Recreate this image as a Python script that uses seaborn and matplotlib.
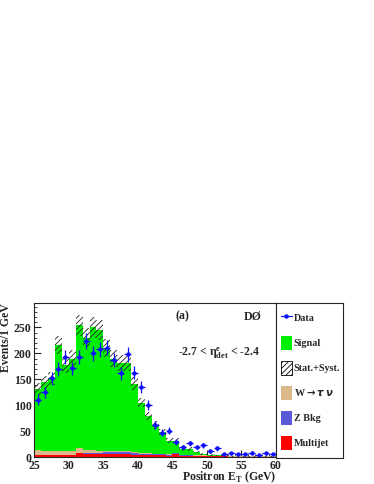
import matplotlib
matplotlib.use('Agg')
import matplotlib.pyplot as plt
from matplotlib.patches import Patch
from matplotlib.lines import Line2D
from matplotlib.ticker import MultipleLocator
import seaborn as sns
import numpy as np
import pandas as pd

# bins are 1 GeV wide, 25..60
bin_lo = np.arange(25, 60)
signal = [117, 132, 139, 203, 165, 178, 236, 216, 235, 232, 198, 177, 169, 169, 131,
          96, 71, 55, 41, 26, 23, 11, 11.5, 7.5, 2.5, 1.2, 0.8, 0.6, 0.5, 0.5,
          0.4, 0.3, 0.3, 0.3, 0.3]
wtau = [9, 7, 8, 8, 7, 7, 9, 6, 6, 4, 3, 3, 2, 2, 2, 2, 2, 1, 1, 1, 1, 1, 0.5, 0.5,
        0.5, 0.3, 0.3, 0.3, 0.3, 0.3, 0.3, 0.3, 0.3, 0.3, 0.3]
zbkg = [1, 1, 1, 1, 1, 1, 1, 2, 2, 3, 4, 4, 5, 5, 4, 3, 3, 2, 2, 2, 1, 1, 1, 1, 1,
        0.5, 0.5, 0.5, 0.5, 0.5, 0.5, 0.3, 0.3, 0.3, 0.3]
multijet = [4, 4, 4, 4, 4, 4, 8, 6, 7, 6, 6, 6, 6, 6, 5, 4, 4, 4, 4, 3, 7, 3, 3, 2, 2,
            2, 2, 2, 1, 1, 1, 1, 1, 1, 1]
syst_err = [12, 13, 13, 17, 15, 16, 20, 18, 20, 19, 17, 16, 15, 15, 12, 9, 8, 7, 6, 5,
            5, 3, 3, 2, 2, 1.5, 1, 1, 1, 1, 1, 1, 1, 1, 1]
data = [111, 125, 152, 170, 193, 171, 193, 224, 200, 208, 211, 188, 162, 198, 163,
        135, 101, 62, 47, 51, 30, 20, 27, 20, 23, 12, 17, 6, 8, 6, 6, 9, 4.5, 8, 6]
data_err = [10.5, 11.2, 12.3, 13, 13.9, 13.1, 13.9, 15, 14.1, 14.4, 14.5, 13.7, 12.7,
            14.1, 12.8, 11.6, 10, 7.9, 6.9, 7.1, 5.5, 4.5, 5.2, 4.5, 4.8, 3.5, 4.1,
            2.4, 2.8, 2.4, 2.4, 3, 2.1, 2.8, 2.4]

procs = ['Multijet', 'Z Bkg', 'W tau', 'Signal']
colors = {'Multijet': '#ff0000', 'Z Bkg': '#5a5ad8', 'W tau': '#dcb98a', 'Signal': '#00ee00'}

rows = []
for name, vals in zip(procs, [multijet, zbkg, wtau, signal]):
    for lo, v in zip(bin_lo, vals):
        rows.append({'et': lo + 0.5, 'n': v, 'proc': name})
df = pd.DataFrame(rows)

sns.set_style('ticks')
plt.rcParams['font.family'] = ['Liberation Serif', 'DejaVu Serif']
plt.rcParams['font.weight'] = 'bold'
plt.rcParams['hatch.linewidth'] = 0.6
plt.rcParams['hatch.color'] = '#222222'

fig = plt.figure(figsize=(3.74, 4.84), dpi=100)
ax = fig.add_axes([34.3 / 374, 1 - 457.3 / 484, (276 - 34.3) / 374, (457.3 - 303) / 484])

# signal on top, multijet at the bottom of the stack
sns.histplot(data=df, x='et', weights='n', hue='proc', hue_order=procs[::-1],
             multiple='stack', binwidth=1, binrange=(25, 60), palette=colors,
             element='bars', linewidth=0, alpha=1, legend=False, ax=ax)

total = np.array(multijet) + np.array(zbkg) + np.array(wtau) + np.array(signal)
err = np.array(syst_err)
ax.bar(bin_lo + 0.5, 2 * err, bottom=total - err, width=1.0, fill=False,
       hatch='//////', linewidth=0, edgecolor='#222222', zorder=3)

ax.errorbar(bin_lo + 0.5, data, yerr=data_err, xerr=0.5, fmt='o', ms=2.2,
            color='#1010ff', elinewidth=0.9, capsize=0, zorder=4)

ax.set_xlim(25, 60)
ax.set_ylim(0, 297)
ax.xaxis.set_major_locator(MultipleLocator(5))
ax.xaxis.set_minor_locator(MultipleLocator(1))
ax.yaxis.set_major_locator(MultipleLocator(50))
ax.yaxis.set_minor_locator(MultipleLocator(10))
ax.tick_params(axis='both', which='both', direction='in', labelsize=8.5, pad=2)
ax.tick_params(axis='both', which='major', length=5, width=0.8)
ax.tick_params(axis='both', which='minor', length=2.5, width=0.6)
for lab in ax.get_xticklabels() + ax.get_yticklabels():
    lab.set_fontweight('bold')
for sp in ax.spines.values():
    sp.set_linewidth(0.8)
    sp.set_zorder(5)

ax.set_ylabel('Events/1 GeV', fontsize=8.5, fontweight='bold', loc='top', labelpad=1)
ax.set_xlabel(r'Positron E$_\mathregular{T}$ (GeV)', fontsize=8.5, fontweight='bold')
ax.xaxis.set_label_coords(1.0, -0.078)
ax.xaxis.label.set_horizontalalignment('right')
ax.xaxis.label.set_verticalalignment('top')

ax.text(46.4, 271, '(a)', fontsize=8.5, fontweight='bold', ha='center', va='center')
ax.text(56.6, 271, 'DØ', fontsize=8.5, fontweight='bold', ha='center', va='center')
ax.text(51.8, 200, r'-2.7 < $\mathregular{\eta^{e}_{det}}$ < -2.4', fontsize=8.5,
        fontweight='bold', ha='center', va='center')

# legend box to the right
lax = fig.add_axes([276 / 374, 1 - 458 / 484, (343 - 276) / 374, (458 - 303) / 484])
lax.set_xticks([])
lax.set_yticks([])
for sp in lax.spines.values():
    sp.set_linewidth(0.8)
handles = [
    Line2D([0], [0], color='#1010ff', marker='o', ms=2.2, lw=0.9),
    Patch(facecolor=colors['Signal'], edgecolor='none'),
    Patch(facecolor='white', edgecolor='black', hatch='//////', linewidth=0.6),
    Patch(facecolor=colors['W tau'], edgecolor='none'),
    Patch(facecolor=colors['Z Bkg'], edgecolor='none'),
    Patch(facecolor=colors['Multijet'], edgecolor='none'),
]
labels = ['Data', 'Signal', 'Stat.+Syst.', r'W$\rightarrow\tau\,\nu$', 'Z Bkg', 'Multijet']
lax.legend(handles, labels, loc='center left', frameon=False,
           handlelength=1.1, handleheight=1.8, handletextpad=0.2,
           labelspacing=1.05, borderaxespad=0, bbox_to_anchor=(0.01, 0.5),
           prop={'weight': 'bold', 'size': 7.3})

fig.savefig('out.png', dpi=100)
